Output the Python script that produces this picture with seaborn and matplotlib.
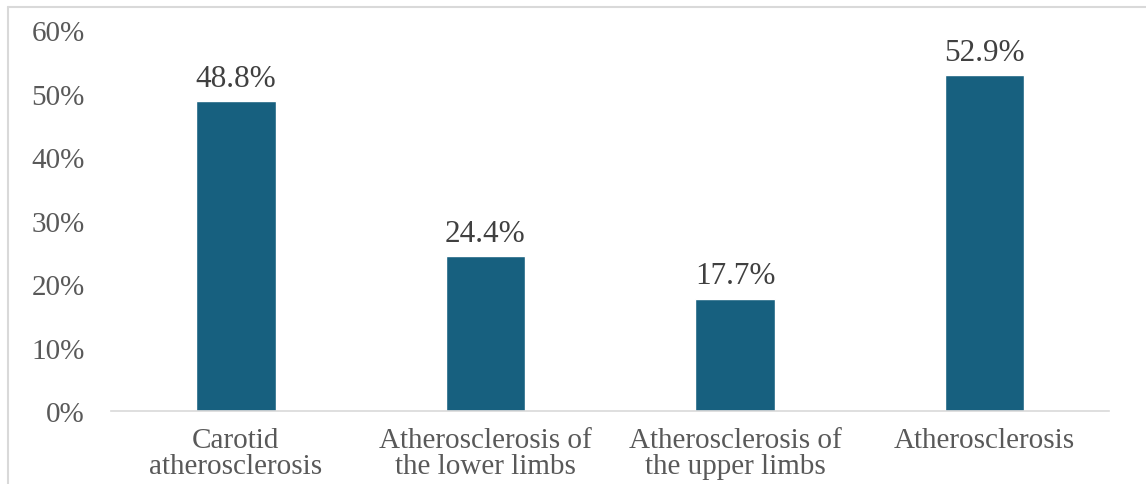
import matplotlib
matplotlib.use("Agg")
import matplotlib.pyplot as plt
from matplotlib.lines import Line2D
from matplotlib.ticker import FuncFormatter
import seaborn as sns
import pandas as pd

categories = [
    "Carotid\natherosclerosis",
    "Atherosclerosis of\nthe lower limbs",
    "Atherosclerosis of\nthe upper limbs",
    "Atherosclerosis",
]
values = [48.8, 24.4, 17.7, 52.9]
y_ticks = [0, 10, 20, 30, 40, 50, 60]

sns.set_theme(style="white")
plt.rcParams["font.family"] = ["Liberation Serif", "DejaVu Serif"]

df = pd.DataFrame({"category": categories, "value": values})

fig = plt.figure(figsize=(11.46, 4.85), dpi=100)
ax = fig.add_axes([0.097, 0.15, 0.871, 0.786])

sns.barplot(data=df, x="category", y="value", color="#17607F",
            width=0.32, saturation=1, ax=ax)

ax.set_ylim(0, 60)
ax.set_yticks(y_ticks)
ax.yaxis.set_major_formatter(FuncFormatter(lambda v, _: f"{v:.0f}%"))
ax.set_xlabel("")
ax.set_ylabel("")

for s in ["top", "right", "left"]:
    ax.spines[s].set_visible(False)
ax.spines["bottom"].set_color("#d9d9d9")
ax.spines["bottom"].set_linewidth(1.2)

ax.tick_params(axis="y", length=0, labelsize=21, labelcolor="#595959", pad=19)
ax.tick_params(axis="x", length=0, labelsize=21, labelcolor="#595959", pad=11)
for lbl in ax.get_xticklabels():
    lbl.set_linespacing(1.0)

for i, v in enumerate(values):
    ax.annotate(f"{v:.1f}%", xy=(i, v), xytext=(0, 6), textcoords="offset points",
                ha="center", va="bottom", fontsize=22.5, color="#404040")

# light frame around the chart area
fig.add_artist(Line2D([0.007, 1.0], [0.983, 0.983], transform=fig.transFigure,
                      color="#d9d9d9", lw=1.5))
fig.add_artist(Line2D([0.007, 0.007], [0.0, 0.983], transform=fig.transFigure,
                      color="#d9d9d9", lw=1.5))

fig.savefig("out.png", dpi=100, facecolor="white")
